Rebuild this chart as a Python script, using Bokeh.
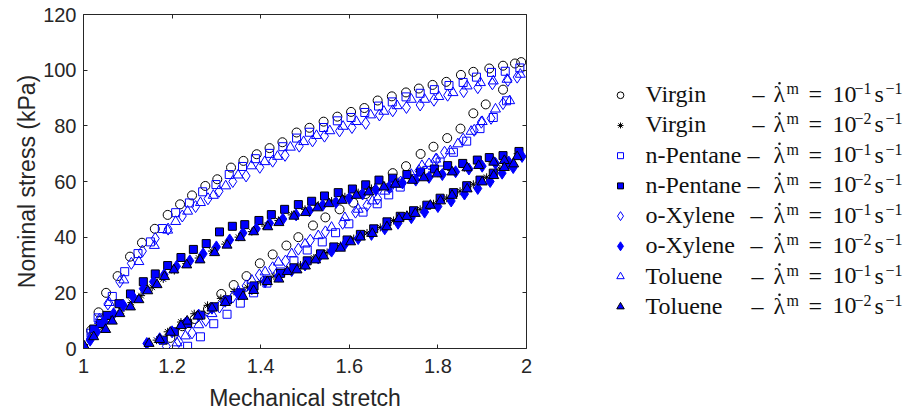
from bokeh.plotting import figure
from bokeh.layouts import row
from bokeh.models import Range1d, LinearAxis, FixedTicker
from bokeh.embed import file_html
from bokeh.resources import INLINE
from bokeh.core.properties import value

# ---------------- data (loading branch followed by unloading branch) ----------------
virgin_fast_stretch = [1.00, 1.017, 1.034, 1.051, 1.077, 1.105, 1.132, 1.161, 1.19, 1.218, 1.245, 1.275, 1.302,
                       1.333, 1.361, 1.391, 1.42, 1.449, 1.481, 1.51, 1.542, 1.573, 1.604, 1.634, 1.664, 1.696,
                       1.728, 1.757, 1.788, 1.819, 1.852, 1.88, 1.916, 1.947, 1.974, 1.988,
                       1.947, 1.908, 1.88, 1.851, 1.821, 1.79, 1.761, 1.728, 1.698, 1.667, 1.637, 1.609, 1.578,
                       1.546, 1.518, 1.485, 1.458, 1.427, 1.398, 1.368, 1.339, 1.311, 1.281, 1.251, 1.223, 1.196]
virgin_fast_stress = [0, 6.5, 13, 20, 26, 33, 38, 43, 48, 51.8, 55, 58.4, 60.8, 65, 67.4, 69.8, 72, 74.1, 77.6,
                      79.3, 81.5, 83.3, 85, 86.4, 89.1, 90.6, 92, 93.4, 94.7, 95.8, 98.3, 99.4, 100.6, 101.6,
                      102.4, 102.9,
                      93, 87.7, 84.5, 79, 75.6, 72.5, 69.9, 65.5, 63, 58.5, 55.5, 52.4, 50, 47.1, 44.2, 40, 37,
                      33.8, 30.6, 26, 22.8, 19.6, 14.2, 10.6, 8, 3.8]

virgin_slow_stretch = [1.0, 1.021, 1.042, 1.062, 1.085, 1.108, 1.13, 1.155, 1.18, 1.205, 1.232, 1.26, 1.29, 1.32,
                       1.35, 1.38, 1.41, 1.44, 1.47, 1.5, 1.53, 1.56, 1.59, 1.62, 1.65, 1.68, 1.71, 1.74, 1.77,
                       1.8, 1.83, 1.86, 1.89, 1.92, 1.95, 1.98,
                       1.965, 1.94, 1.91, 1.88, 1.85, 1.82, 1.79, 1.76, 1.73, 1.7, 1.67, 1.64, 1.61, 1.58, 1.55,
                       1.52, 1.49, 1.46, 1.43, 1.4, 1.37, 1.34, 1.31, 1.28, 1.25, 1.22, 1.19, 1.165]
virgin_slow_stress = [0, 4.5, 7.5, 10.5, 13.5, 16.5, 19, 22, 25, 28, 30.5, 32.5, 35, 37.5, 40, 42, 44, 46, 48,
                      50, 51.5, 53, 54.5, 56, 57.5, 58.5, 60, 61, 62, 63, 64, 65, 66.5, 67.5, 68.5, 70,
                      66, 64.5, 61.5, 59, 56.5, 54, 52, 50, 48, 46, 43.5, 41.5, 39.5, 37, 34.5, 32.5, 30, 28, 26,
                      24, 22, 20.5, 18, 15.5, 12.5, 9.5, 6, 3]

pentane_fast_stretch = [1.0, 1.017, 1.033, 1.065, 1.093, 1.123, 1.151, 1.178, 1.208, 1.239, 1.269, 1.299, 1.329,
                        1.359, 1.388, 1.42, 1.45, 1.481, 1.51, 1.542, 1.573, 1.604, 1.635, 1.666, 1.697, 1.728,
                        1.76, 1.792, 1.825, 1.857, 1.887, 1.921, 1.952, 1.985,
                        1.955, 1.925, 1.895, 1.865, 1.835, 1.805, 1.775, 1.745, 1.715, 1.689, 1.663, 1.631,
                        1.599, 1.569, 1.539, 1.505, 1.475, 1.445, 1.414, 1.384, 1.354, 1.324, 1.294, 1.264, 1.235]
pentane_fast_stress = [0, 5.5, 11, 18.7, 27.6, 34.1, 38.3, 43.1, 48.8, 52.3, 56.3, 58.9, 62.5, 65.4, 68.2, 70.1,
                       72.5, 75.6, 77.7, 79.4, 81.8, 83, 84.8, 87.1, 88.6, 90.4, 91.7, 93, 94.5, 95.6, 97.5, 99.2,
                       99.6, 100.8,
                       89, 83, 79, 74.5, 70.5, 67, 64, 61, 58, 55.2, 52, 49, 44.8, 41.6, 38.3, 35.4, 31.5, 27.5,
                       23.5, 20, 16.3, 12.3, 8.9, 4.2, 0.8]

pentane_slow_stretch = [1.0, 1.023, 1.038, 1.053, 1.08, 1.106, 1.135, 1.162, 1.19, 1.22, 1.248, 1.277, 1.307,
                        1.336, 1.364, 1.396, 1.424, 1.454, 1.485, 1.515, 1.544, 1.575, 1.607, 1.637, 1.667, 1.698,
                        1.73, 1.761, 1.792, 1.822, 1.856, 1.889, 1.916, 1.947, 1.983,
                        1.955, 1.925, 1.895, 1.865, 1.835, 1.805, 1.775, 1.745, 1.715, 1.685, 1.655, 1.625, 1.595,
                        1.565, 1.535, 1.505, 1.475, 1.445, 1.415, 1.385, 1.355, 1.325, 1.295, 1.265, 1.235, 1.205,
                        1.18]
pentane_slow_stress = [0, 7, 9, 11.9, 16.1, 19.6, 24, 26.8, 29.8, 32.7, 35.6, 37.7, 41.9, 43.9, 44.5, 46, 48.1,
                       50, 51.7, 52.9, 54.8, 56, 57.3, 58.8, 60.5, 61.2, 62.5, 63.4, 64.5, 65.7, 66.5, 67.7, 68.6,
                       69.3, 70.8,
                       66, 63, 60.5, 58.5, 56, 54, 51.5, 49.5, 47.5, 45.5, 43, 41, 39, 36.5, 34, 31.5, 29, 27,
                       24.5, 22.5, 20, 17.5, 15, 12, 9, 6, 3]

xylene_fast_stretch = [1.0, 1.018, 1.036, 1.055, 1.082, 1.108, 1.133, 1.162, 1.191, 1.223, 1.253, 1.281, 1.306,
                       1.337, 1.367, 1.398, 1.427, 1.455, 1.487, 1.517, 1.544, 1.578, 1.606, 1.637, 1.668, 1.698,
                       1.729, 1.76, 1.791, 1.822, 1.858, 1.89, 1.923, 1.958, 1.979,
                       1.947, 1.92, 1.898, 1.882, 1.857, 1.815, 1.797, 1.78, 1.757, 1.716, 1.693, 1.664, 1.64,
                       1.614, 1.585, 1.546, 1.512, 1.485, 1.456, 1.427, 1.397, 1.367, 1.337, 1.307, 1.276, 1.245,
                       1.215, 1.187]
xylene_fast_stress = [0, 5, 10.5, 16, 24, 30.6, 35, 39.5, 42.9, 47.6, 51, 53.8, 56.5, 60, 62, 65.1, 67.3, 69.4,
                      72.7, 74.6, 76.3, 78.2, 79.4, 80.9, 83.9, 85.4, 86.6, 87.5, 89.2, 91, 92.3, 93.7, 95.1,
                      96.3, 97.5,
                      88, 82.7, 81.3, 78.4, 75.2, 70.5, 68, 66.3, 63.9, 59.8, 58, 53.8, 51.4, 49, 45, 41.9, 38.9,
                      35.7, 31.4, 29, 26.4, 22.5, 18.5, 14.9, 10.1, 5.6, 2.5, 0.8]

xylene_slow_stretch = [1.0, 1.015, 1.03, 1.047, 1.068, 1.09, 1.112, 1.135, 1.158, 1.182, 1.21, 1.24, 1.27, 1.3,
                       1.33, 1.36, 1.39, 1.42, 1.45, 1.48, 1.51, 1.54, 1.57, 1.6, 1.63, 1.66, 1.69, 1.72, 1.75,
                       1.78, 1.81, 1.84, 1.87, 1.9, 1.93, 1.96, 1.99,
                       1.97, 1.945, 1.918, 1.89, 1.86, 1.83, 1.8, 1.77, 1.74, 1.71, 1.68, 1.65, 1.62, 1.59, 1.56,
                       1.53, 1.5, 1.47, 1.44, 1.41, 1.38, 1.35, 1.32, 1.29, 1.26, 1.23, 1.2, 1.172, 1.143]
xylene_slow_stress = [0, 3, 6, 9.5, 12.5, 15.5, 18.5, 21.5, 24, 26.5, 29.5, 31.5, 34, 36.5, 39, 41.5, 43, 45,
                      46.5, 48, 49.5, 51.5, 52.5, 54, 55.5, 57, 58, 59.5, 60.5, 61.5, 62.5, 63.5, 64.5, 65.5,
                      66.5, 67, 69,
                      65, 63, 60, 57.5, 55.5, 53, 51, 49, 47, 45, 43, 41, 39.5, 37.5, 35, 32.5, 30, 28, 26, 24,
                      21.5, 19.5, 17, 14.5, 12, 9, 6, 3.5, 1.8]

toluene_fast_stretch = [1.0, 1.018, 1.036, 1.058, 1.091, 1.125, 1.16, 1.19, 1.208, 1.235, 1.264, 1.293, 1.321,
                        1.349, 1.379, 1.409, 1.438, 1.467, 1.497, 1.526, 1.556, 1.586, 1.616, 1.648, 1.678, 1.708,
                        1.74, 1.77, 1.802, 1.834, 1.866, 1.896, 1.925, 1.956, 1.986,
                        1.962, 1.93, 1.9, 1.875, 1.845, 1.828, 1.795, 1.764, 1.74, 1.71, 1.68, 1.652, 1.62, 1.59,
                        1.56, 1.53, 1.5, 1.47, 1.44, 1.41, 1.38, 1.35, 1.32, 1.29, 1.26, 1.23, 1.211]
toluene_fast_stress = [0, 4.5, 10, 16.5, 24.6, 31.2, 37, 42.5, 45.6, 49.3, 52.4, 55, 58.4, 62.3, 65.6, 67.1, 69,
                       72.3, 74.3, 76.5, 78.2, 79.8, 81.5, 83.9, 85.2, 87.2, 89.5, 89.5, 90.5, 91.9, 94.3, 95.5,
                       96.1, 96.7, 98.5,
                       89, 86, 81.5, 78, 73.5, 71, 68, 65.7, 62.5, 59, 56.5, 53, 50, 47, 43.5, 40.5, 37.5, 34, 31,
                       27.5, 24.5, 20.5, 16.5, 12.5, 8.5, 4.5, 2]

toluene_slow_stretch = [1.002, 1.023, 1.05, 1.065, 1.082, 1.106, 1.125, 1.145, 1.166, 1.183, 1.204, 1.233, 1.263,
                        1.296, 1.324, 1.354, 1.384, 1.416, 1.441, 1.475, 1.501, 1.528, 1.554, 1.584, 1.616, 1.644,
                        1.678, 1.704, 1.742, 1.768, 1.798, 1.832, 1.866, 1.892, 1.926, 1.95, 1.979,
                        1.971, 1.95, 1.926, 1.9, 1.866, 1.832, 1.806, 1.783, 1.749, 1.73, 1.712, 1.685, 1.652,
                        1.625, 1.603, 1.58, 1.542, 1.524, 1.501, 1.482, 1.46, 1.441, 1.415, 1.384, 1.36, 1.32,
                        1.29, 1.258, 1.234, 1.22, 1.196, 1.172, 1.148]
toluene_slow_stress = [0.8, 4.2, 6.8, 9.8, 12.5, 14.9, 17.5, 20.7, 22.9, 25.8, 28.2, 30, 31.8, 34.4, 37.1, 39.8,
                       41.9, 43.7, 45.2, 47.5, 48.8, 50.5, 52, 53.2, 55, 56.2, 58, 59, 60.4, 61.3, 62.7, 63.4,
                       64.9, 65.7, 66.9, 67.5, 68.9,
                       66.3, 65, 62.1, 59.8, 57.3, 55, 53, 51.4, 48.5, 47.4, 46.6, 43.7, 41.3, 40, 38.3, 36, 33.2,
                       31.8, 29.6, 28.2, 27.6, 24.9, 24, 20.8, 18.7, 16.5, 14.5, 11.6, 9.8, 8.2, 5.8, 3.2, 1.8]

legend_names = ["Virgin", "Virgin", "n-Pentane", "n-Pentane", "o-Xylene", "o-Xylene", "Toluene", "Toluene"]
rate_exponents = ["\u22121", "\u22122", "\u22121", "\u22122", "\u22121", "\u22122", "\u22121", "\u22122"]

x_ticks = [1, 1.2, 1.4, 1.6, 1.8, 2]
x_tick_labels = ["1", "1.2", "1.4", "1.6", "1.8", "2"]
y_ticks = [0, 20, 40, 60, 80, 100, 120]
y_tick_labels = ["0", "20", "40", "60", "80", "100", "120"]

# ---------------- styles ----------------
BLUE = "#0000ff"
series = [
    (virgin_fast_stretch, virgin_fast_stress, "circle", 9, "black", None),
    (virgin_slow_stretch, virgin_slow_stress, "asterisk", 8, "black", None),
    (pentane_fast_stretch, pentane_fast_stress, "square", 8, BLUE, None),
    (pentane_slow_stretch, pentane_slow_stress, "square", 8, "black", BLUE),
    (xylene_fast_stretch, xylene_fast_stress, "diamond", 12, BLUE, None),
    (xylene_slow_stretch, xylene_slow_stress, "diamond", 12, BLUE, BLUE),
    (toluene_fast_stretch, toluene_fast_stress, "triangle", 10, BLUE, None),
    (toluene_slow_stretch, toluene_slow_stress, "triangle", 10, "black", BLUE),
]

AX = "#262626"
SANS = "Liberation Sans"
SERIF = "Liberation Serif"

FRAME_TOP, FRAME_BOTTOM = 14, 349
W1 = 560
p = figure(width=W1, height=413, x_range=Range1d(1, 2), y_range=Range1d(0, 120),
           output_backend="svg", toolbar_location=None,
           min_border_left=83, min_border_right=W1 - 526, min_border_top=FRAME_TOP,
           min_border_bottom=413 - FRAME_BOTTOM,
           x_axis_label="Mechanical stretch", y_axis_label="Nominal stress (kPa)")
p.xgrid.grid_line_color = None
p.ygrid.grid_line_color = None
p.outline_line_color = None
p.background_fill_color = "white"
p.border_fill_color = "white"

for xs, ys, mk, sz, lc, fc in series:
    n = min(len(xs), len(ys))
    p.scatter(xs[:n], ys[:n], marker=mk, size=sz, line_color=lc, line_width=1,
              fill_color=fc, fill_alpha=1 if fc else 0)


def style_axis(ax, ticks, labels, show_labels):
    ax.ticker = FixedTicker(ticks=ticks)
    ax.major_label_overrides = {t: l for t, l in zip(ticks, labels)}
    ax.major_tick_in = 4
    ax.major_tick_out = 0
    ax.minor_tick_line_color = None
    ax.axis_line_color = AX
    ax.major_tick_line_color = AX
    ax.axis_line_width = 1
    if show_labels:
        ax.major_label_text_font = SANS
        ax.major_label_text_font_size = "20px"
        ax.major_label_text_color = AX
        ax.axis_label_text_font = SANS
        ax.axis_label_text_font_size = "23px"
        ax.axis_label_text_font_style = "normal"
        ax.axis_label_text_color = AX
    else:
        ax.major_label_text_font_size = "0px"
        ax.major_label_standoff = 0


style_axis(p.xaxis[0], x_ticks, x_tick_labels, True)
style_axis(p.yaxis[0], y_ticks, y_tick_labels, True)
p.xaxis[0].major_label_standoff = 10
p.xaxis[0].axis_label_standoff = 9
p.yaxis[0].major_label_standoff = 7
p.yaxis[0].axis_label_standoff = 0

top = LinearAxis()
style_axis(top, x_ticks, [""] * len(x_ticks), False)
p.add_layout(top, "above")
right = LinearAxis()
style_axis(right, y_ticks, [""] * len(y_ticks), False)
p.add_layout(right, "right")

# ---------------- legend panel (screen-pixel coordinates) ----------------
W2 = 910 - W1
q = figure(width=W2, height=413, x_range=Range1d(W1, 910), y_range=Range1d(FRAME_BOTTOM, FRAME_TOP),
           output_backend="svg", toolbar_location=None, min_border=0,
           min_border_top=FRAME_TOP, min_border_bottom=413 - FRAME_BOTTOM,
           x_axis_location=None, y_axis_location=None)
q.xgrid.grid_line_color = None
q.ygrid.grid_line_color = None
q.outline_line_color = None
q.background_fill_color = "white"
q.border_fill_color = "white"

dash_x = {"Virgin": 752, "n-Pentane": 747, "o-Xylene": 750, "Toluene": 751}
TXT = "#111111"
big = dict(text_font=value(SERIF), text_font_size="24px", text_baseline="middle",
           text_align="left", text_color=TXT)
small = dict(text_font=value(SERIF), text_font_size="16px", text_baseline="middle",
             text_align="left", text_color=TXT)
for i, (name, ex) in enumerate(zip(legend_names, rate_exponents)):
    _, _, mk, sz, lc, fc = series[i]
    yc = 95 + 30.3 * i
    q.scatter([620], [yc], marker=mk, size=sz * 0.75, line_color=lc, line_width=1,
              fill_color=fc, fill_alpha=1 if fc else 0)
    q.text([645], [yc - 1], text=[name], **big)
    q.text([dash_x[name]], [yc - 1], text=["\u2013"], **big)
    q.text([773], [yc - 1], text=["\u03bb"], **big)
    q.scatter([779], [yc - 12], marker="circle", size=2.6, line_color=None, fill_color=TXT)
    q.text([786], [yc - 6.5], text=["m"], **small)
    q.text([808], [yc - 1], text=["="], **big)
    q.text([832], [yc - 1], text=["10"], **big)
    q.text([854], [yc - 6.5], text=[ex], **small)
    q.text([874], [yc - 1], text=["s"], **big)
    q.text([885], [yc - 6.5], text=["\u22121"], **small)

layout = row(p, q)
open("out.html", "w").write(file_html(layout, INLINE))
